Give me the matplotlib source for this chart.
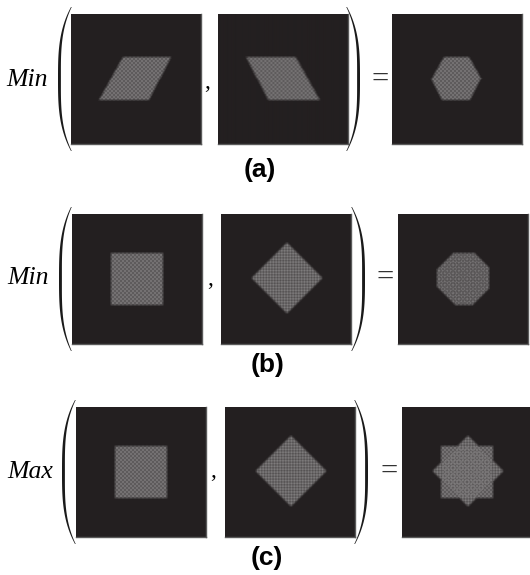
import numpy as np
import matplotlib
matplotlib.use('Agg')
import matplotlib.pyplot as plt
from matplotlib.path import Path
from matplotlib.patches import Polygon
from matplotlib.colors import LinearSegmentedColormap

# размер картинки (пиксели) и фигуры
W, H = 530, 575
N = 130

# вершины фигур внутри картинки (x вправо, y вниз)
para_right = [(52, 43), (100, 43), (78, 86), (28, 86)]
para_left = [(28, 43), (77, 43), (101, 86), (50, 86)]
square = [(39, 39), (91, 39), (91, 91), (39, 91)]
diamond = [(66, 29), (101, 64), (66, 99), (31, 64)]

ops = ['Min', 'Min', 'Max']
panel_labels = ['(a)', '(b)', '(c)']
shape_level = 0.32   # яркость фигуры (0 - фон, 1 - белый)
tex_amp = 0.10       # сила текстуры внутри фигуры


def blur(img):
    p = np.pad(img, 1, mode='edge')
    out = np.zeros_like(img)
    for dy in range(3):
        for dx in range(3):
            out += p[dy:dy + N, dx:dx + N]
    return out / 9


def shape_img(verts, rotated=False):
    yy, xx = np.mgrid[0:N, 0:N] + 0.5
    pts = np.c_[xx.ravel(), yy.ravel()]
    mask = Path(verts).contains_points(pts).reshape(N, N)
    mask = blur(mask.astype(float))
    if rotated:
        u = (xx + yy) / np.sqrt(2)
        v = (xx - yy) / np.sqrt(2)
    else:
        u, v = xx, yy
    tex = shape_level + tex_amp * np.sin(2 * np.pi * u / 4) * np.sin(2 * np.pi * v / 4)
    return mask * tex


A = shape_img(para_right)
B = shape_img(para_left)
S = shape_img(square)
D = shape_img(diamond, rotated=True)

rows = [
    (A, B, np.minimum(A, B)),
    (S, D, np.minimum(S, D)),
    (S, D, np.maximum(S, D)),
]

cmap = LinearSegmentedColormap.from_list('dark', ['#231f20', '#ffffff'])

fig = plt.figure(figsize=(W / 100, H / 100), dpi=100)

# общий слой для текста и скобок, координаты в пикселях
ov = fig.add_axes([0, 0, 1, 1])
ov.set_xlim(0, W)
ov.set_ylim(H, 0)
ov.axis('off')

img_x = [[71, 218, 392], [72, 221, 398], [76, 225, 402]]
img_y = [14, 214, 407]
paren_l = [(58, 71), (59, 71), (62, 75)]
paren_r = [(347, 360), (352, 365), (355, 368)]
op_x = [27, 28, 30]
mid_y = [80, 278, 472]
comma_pos = [(207, 88), (210, 285), (213, 477)]
eq_x = [380, 385, 389]
lab_pos = [(260, 170), (268, 365), (267, 558)]


def paren(x0, x1, y0, y1, left=True):
    t = np.linspace(-1, 1, 120)
    y = (y0 + y1) / 2 + t * (y1 - y0) / 2
    bulge = 1 - np.abs(t) ** 3
    thick = 0.7 + 2.2 * (1 - t ** 2)
    if left:
        outer = x1 - (x1 - x0) * bulge
        inner = outer + thick
    else:
        outer = x0 + (x1 - x0) * bulge
        inner = outer - thick
    xs = np.r_[outer, inner[::-1]]
    ys = np.r_[y, y[::-1]]
    ov.add_patch(Polygon(np.c_[xs, ys], closed=True, color='#1a1a1a', lw=0))


for r in range(3):
    top = img_y[r]
    for k in range(3):
        x = img_x[r][k]
        ax = fig.add_axes([x / W, 1 - (top + N) / H, N / W, N / H])
        ax.imshow(rows[r][k], cmap=cmap, vmin=0, vmax=1,
                  aspect='auto', interpolation='bilinear')
        ax.set_xticks([])
        ax.set_yticks([])
        for s in ['top', 'left']:
            ax.spines[s].set_visible(False)
        for s in ['bottom', 'right']:
            ax.spines[s].set_color('#5a5a5a')
            ax.spines[s].set_linewidth(1.0)

    paren(paren_l[r][0], paren_l[r][1], top - 7, top + N + 7, left=True)
    paren(paren_r[r][0], paren_r[r][1], top - 7, top + N + 7, left=False)

    ov.text(op_x[r], mid_y[r], ops[r], fontfamily='Liberation Serif',
            style='italic', fontsize=18.5, ha='center', va='center')
    ov.text(comma_pos[r][0], comma_pos[r][1], ',', fontfamily='Liberation Serif',
            fontsize=17, ha='center', va='baseline')
    ov.text(eq_x[r], mid_y[r], '=', fontfamily='Liberation Serif',
            fontsize=22, ha='center', va='center', color='#333333')
    ov.text(lab_pos[r][0], lab_pos[r][1], panel_labels[r],
            fontfamily='Liberation Sans', fontweight='bold', fontsize=19,
            ha='center', va='center')

fig.savefig('out.png', dpi=100)
